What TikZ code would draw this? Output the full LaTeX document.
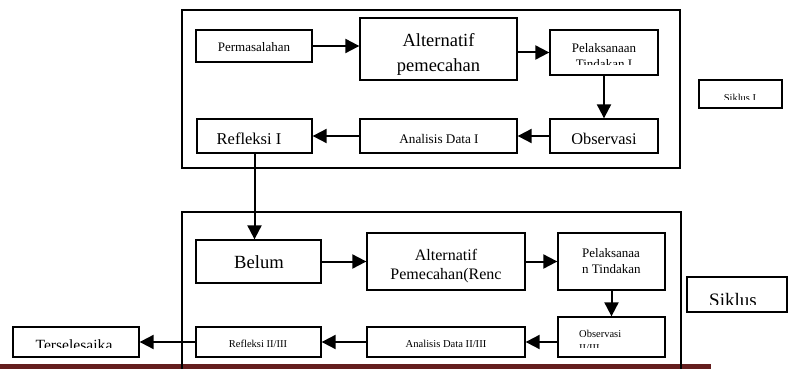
\documentclass[tikz,border=0pt]{standalone}
\usepackage{fontspec}
\setmainfont{Liberation Serif}
\usetikzlibrary{arrows.meta,fit}
\definecolor{barred}{RGB}{100,30,30}
\tikzset{
  box/.style={draw, line width=1.3pt, inner sep=0pt},
  frame/.style={draw, line width=1.5pt},
  flow/.style={line width=2pt, -{Triangle[length=14pt,width=14pt]}},
  lbl/.style={inner sep=0pt, anchor=base},
  lblw/.style={inner sep=0pt, anchor=base west},
}
\newcommand\fs[1]{\fontsize{#1}{#1}\selectfont}
\begin{document}
\begin{tikzpicture}[x=1pt,y=-1pt]
\useasboundingbox (0,0) rectangle (793,369);
\fill[barred] (0,364) rectangle (711,369);
% frames
\node[frame, inner sep=0pt, fit={(182,10) (680,168)}] (frame1) {};
\coordinate (f2a) at (182,369);
\coordinate (f2b) at (182,212);
\coordinate (f2c) at (681,212);
\coordinate (f2d) at (681,369);
\draw[frame] (f2a) -- (f2b) -- (f2c) -- (f2d);
% boxes cycle I
\node[box, fit={(196,30) (312,62)}] (perm) {};
\node[box, fit={(360,18) (517,80)}] (alt1) {};
\node[box, fit={(550,30) (658,75)}] (pel1) {};
\node[box, fit={(699,80) (782,108)}] (sik1) {};
\node[box, fit={(197,119) (312,153)}] (ref1) {};
\node[box, fit={(360,119) (517,153)}] (ana1) {};
\node[box, fit={(550,119) (658,153)}] (obs1) {};
% boxes cycle II
\node[box, fit={(196,240) (321,283)}] (belum) {};
\node[box, fit={(367,233) (525,290)}] (alt2) {};
\node[box, fit={(558,233) (665,290)}] (pel2) {};
\node[box, fit={(687,277) (787,312)}] (sik2) {};
\node[box, fit={(558,317) (665,357)}] (obs2) {};
\node[box, fit={(367,327) (525,357)}] (ana2) {};
\node[box, fit={(196,327) (321,357)}] (ref2) {};
\node[box, fit={(13,327) (139,357)}] (ters) {};
% texts cycle I
\node[lbl, font=\fs{13}] (tperm) at (254,52) {Permasalahan};
\node[lbl, font=\fs{18.5}] (talt1a) at (438.5,47) {Alternatif};
\begin{scope}
  \clip (361,19) rectangle (516,77);
  \node[lbl, font=\fs{18.5}] (talt1b) at (438.5,71) {pemecahan};
\end{scope}
\node[lbl, font=\fs{13}] (tpel1a) at (604,53) {Pelaksanaan};
\begin{scope}
  \clip (551,31) rectangle (657,65);
  \node[lbl, font=\fs{13}] (tpel1b) at (604,69) {Tindakan I};
\end{scope}
\begin{scope}
  \clip (700,81) rectangle (781,99.5);
  \node[lbl, font=\fs{10.5}] (tsik1) at (740,101.5) {Siklus I};
\end{scope}
\begin{scope}
  \clip (198,120) rectangle (311,143);
  \node[lbl, font=\fs{16.5}] (tref1) at (249,144) {Refleksi I};
\end{scope}
\node[lbl, font=\fs{13.2}] (tana1) at (439,143) {Analisis Data I};
\begin{scope}
  \clip (551,120) rectangle (657,143);
  \node[lbl, font=\fs{16.3}] (tobs1) at (604,144) {Observasi};
\end{scope}
% texts cycle II
\node[lbl, font=\fs{18.6}] (tbelum) at (259,268) {Belum};
\node[lbl, font=\fs{16}] (talt2a) at (446,260) {Alternatif};
\node[lbl, font=\fs{16}] (talt2b) at (446,279) {Pemecahan(Renc};
\node[lblw, font=\fs{13}] (tpel2a) at (582,257) {Pelaksanaa};
\node[lblw, font=\fs{13}] (tpel2b) at (582,273) {n Tindakan};
\begin{scope}
  \clip (688,278) rectangle (786,304);
  \node[lbl, font=\fs{19}] (tsik2) at (733,306) {Siklus};
\end{scope}
\node[lblw, font=\fs{10.5}] (tobs2a) at (579,337) {Observasi};
\begin{scope}
  \clip (559,318) rectangle (664,347);
  \node[lblw, font=\fs{10.5}] (tobs2b) at (579,351) {II/III};
\end{scope}
\node[lbl, font=\fs{10.6}] (tana2) at (446,347) {Analisis Data II/III};
\node[lbl, font=\fs{10.5}] (tref2) at (258,347) {Refleksi II/III};
\begin{scope}
  \clip (14,328) rectangle (138,347);
  \node[lbl, font=\fs{15.6}] (tters) at (74,350) {Terselesaika};
\end{scope}
% connectors
\draw[flow] (perm.east) -- (perm.east -| alt1.west);
\draw[flow] (alt1.east |- pel1.west) -- (pel1.west);
\draw[flow] (pel1.south) -- (obs1.north);
\draw[flow] (obs1.west) -- (ana1.east);
\draw[flow] (ana1.west) -- (ref1.east);
\draw[flow] (ref1.south) -- (ref1.south |- belum.north);
\draw[flow] (belum.east) -- (belum.east -| alt2.west);
\draw[flow] (alt2.east) -- (pel2.west);
\draw[flow] (pel2.south) -- (obs2.north);
\draw[flow] (obs2.west |- ana2.east) -- (ana2.east);
\draw[flow] (ana2.west) -- (ref2.east);
\draw[flow] (ref2.west) -- (ters.east);
\end{tikzpicture}
\end{document}
